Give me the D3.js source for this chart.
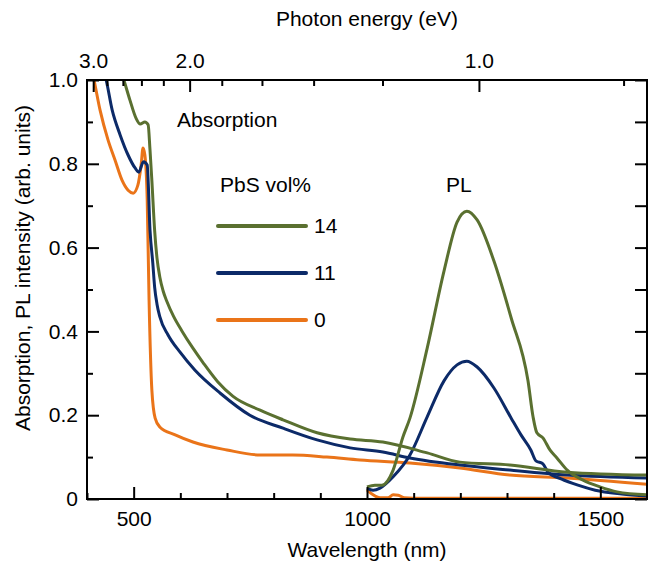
<!DOCTYPE html>
<html>
<head>
<meta charset="utf-8">
<script src="https://cdn.jsdelivr.net/npm/d3@7"></script>
<style>
  body { margin: 0; background: #fff; }
  svg text { font-family: "Liberation Sans", Arial, sans-serif; fill: #000; }
</style>
</head>
<body>
<svg id="chart" width="648" height="563"></svg>
<script>
// wavelength (nm), value
const abs14 = [
  [470, 1.03], [479, 1.0], [492, 0.952], [505, 0.909], [514, 0.895], [524, 0.9],
  [531, 0.893], [535, 0.833], [539, 0.76], [545, 0.64], [550, 0.575], [556, 0.53],
  [563, 0.497], [571, 0.472], [585, 0.437], [604, 0.4], [627, 0.36], [649, 0.325],
  [680, 0.28], [713, 0.245], [771, 0.212], [820, 0.189], [893, 0.158], [964, 0.143],
  [1034, 0.136], [1129, 0.11], [1199, 0.088], [1306, 0.081], [1429, 0.064], [1600, 0.057],
];
const abs11 = [
  [436, 1.02], [441, 1.0], [454, 0.928], [471, 0.869], [488, 0.821], [503, 0.79],
  [511, 0.78], [521, 0.805], [529, 0.797], [535, 0.642], [541, 0.563], [545, 0.505],
  [550, 0.465], [556, 0.435], [574, 0.391], [599, 0.351], [631, 0.308], [685, 0.253],
  [749, 0.2], [820, 0.169], [893, 0.141], [964, 0.122], [1034, 0.112], [1092, 0.098],
  [1199, 0.081], [1306, 0.069], [1429, 0.057], [1600, 0.05],
];
const abs0 = [
  [411, 1.02], [415, 1.0], [428, 0.928], [445, 0.857], [460, 0.809], [475, 0.761],
  [488, 0.737], [499, 0.73], [509, 0.749], [516, 0.797], [520, 0.838], [524, 0.821],
  [529, 0.714], [533, 0.475], [539, 0.26], [546, 0.193], [556, 0.172], [589, 0.153],
  [627, 0.136], [700, 0.117], [771, 0.105], [841, 0.105], [914, 0.1], [985, 0.093],
  [1092, 0.086], [1199, 0.074], [1306, 0.057], [1429, 0.05], [1600, 0.035],
];
const pl14 = [
  [1000, 0.029], [1017, 0.033], [1032, 0.033], [1056, 0.069], [1077, 0.148], [1092, 0.193],
  [1129, 0.36], [1165, 0.544], [1193, 0.661], [1214, 0.687], [1236, 0.666], [1272, 0.568],
  [1309, 0.432], [1345, 0.282], [1356, 0.195], [1364, 0.158], [1377, 0.146], [1392, 0.117],
  [1407, 0.098], [1429, 0.069], [1463, 0.045], [1499, 0.029], [1536, 0.017], [1600, 0.01],
];
const pl11 = [
  [1000, 0.026], [1013, 0.021], [1028, 0.026], [1056, 0.053], [1092, 0.105], [1129, 0.196],
  [1165, 0.282], [1193, 0.32], [1214, 0.329], [1236, 0.315], [1272, 0.265], [1309, 0.193],
  [1330, 0.153], [1351, 0.117], [1362, 0.091], [1377, 0.084], [1388, 0.064], [1416, 0.048],
  [1452, 0.033], [1489, 0.021], [1546, 0.012], [1600, 0.007],
];
const pl0 = [
  [1000, 0.022], [1013, 0.01], [1028, 0.003], [1045, 0.003], [1056, 0.01], [1067, 0.009],
  [1080, 0.003], [1100, 0.002], [1300, 0.002], [1600, 0.002],
];

const series = [
  { name: "14", color: "#5a7030", abs: abs14, pl: pl14 },
  { name: "11", color: "#0c2a68", abs: abs11, pl: pl11 },
  { name: "0", color: "#ea7419", abs: abs0, pl: pl0 },
];

const wlMajor = [500, 1000, 1500];
const wlMinor = [400, 600, 700, 800, 900, 1100, 1200, 1300, 1400, 1600];
const evMajor = [3.0, 2.0, 1.0];
const evMinor = [2.8, 2.6, 2.4, 2.2, 1.8, 1.6, 1.4, 1.2, 0.8];
const yMajor = [0, 0.2, 0.4, 0.6, 0.8, 1.0];
const yMinor = [0.1, 0.3, 0.5, 0.7, 0.9];

const fontSize = "21px";
const svg = d3.select("#chart");
const x = d3.scaleLinear().domain([400, 1600]).range([87, 647]);
const y = d3.scaleLinear().domain([0, 1]).range([499, 80]);
const ev = (e) => 1239.84 / e;

svg.append("defs").append("clipPath").attr("id", "plot")
  .append("rect").attr("x", 87).attr("y", 80).attr("width", 560).attr("height", 419);

// curves
const line = d3.line()
  .x((d) => x(d[0]))
  .y((d) => y(d[1]))
  .curve(d3.curveMonotoneX);

const curves = svg.append("g").attr("clip-path", "url(#plot)");
series.slice().reverse().forEach((s) => {
  [s.abs, s.pl].forEach((data) => {
    curves.append("path")
      .datum(data)
      .attr("d", line)
      .style("fill", "none")
      .style("stroke", s.color)
      .style("stroke-width", 3)
      .style("stroke-linejoin", "round");
  });
});

// axes, ticks inward
const axisStyle = (g) => {
  g.select(".domain").remove();
  g.selectAll("line").style("stroke", "#000").style("stroke-width", 2);
  g.selectAll("text").style("font-size", fontSize).style("font-family", "Liberation Sans, Arial, sans-serif");
};

svg.append("g").attr("transform", "translate(0,499)")
  .call(d3.axisBottom(x).tickValues(wlMinor).tickSize(-6).tickFormat(""))
  .call(axisStyle);
svg.append("g").attr("transform", "translate(0,499)")
  .call(d3.axisBottom(x).tickValues(wlMajor).tickSize(-12).tickPadding(12).tickFormat(d3.format("d")))
  .call(axisStyle);

svg.append("g").attr("transform", "translate(0,80)")
  .call(d3.axisTop(x).tickValues(evMinor.map(ev)).tickSize(-6).tickFormat(""))
  .call(axisStyle);
svg.append("g").attr("transform", "translate(0,80)")
  .call(d3.axisTop(x).tickValues(evMajor.map(ev)).tickSize(-12).tickPadding(12)
    .tickFormat((d) => d3.format(".1f")(1239.84 / d)))
  .call(axisStyle);

svg.append("g").attr("transform", "translate(87,0)")
  .call(d3.axisLeft(y).tickValues(yMinor).tickSize(-6).tickFormat(""))
  .call(axisStyle);
svg.append("g").attr("transform", "translate(87,0)")
  .call(d3.axisLeft(y).tickValues(yMajor).tickSize(-12).tickPadding(9)
    .tickFormat((d) => (d === 0 ? "0" : d3.format(".1f")(d))))
  .call(axisStyle);

svg.append("g").attr("transform", "translate(647,0)")
  .call(d3.axisRight(y).tickValues(yMajor.concat(yMinor)).tickSize(-12).tickFormat(""))
  .call(axisStyle);

svg.append("rect")
  .attr("x", 87).attr("y", 80).attr("width", 560).attr("height", 419)
  .style("fill", "none").style("stroke", "#000").style("stroke-width", 2);

// titles
svg.append("text").attr("x", 367).attr("y", 26).attr("text-anchor", "middle")
  .style("font-size", fontSize).text("Photon energy (eV)");
svg.append("text").attr("x", 367).attr("y", 557).attr("text-anchor", "middle")
  .style("font-size", fontSize).text("Wavelength (nm)");
svg.append("text").attr("transform", "translate(30,268) rotate(-90)").attr("text-anchor", "middle")
  .style("font-size", fontSize).text("Absorption, PL intensity (arb. units)");

svg.append("text").attr("x", 177).attr("y", 127).style("font-size", fontSize).text("Absorption");
svg.append("text").attr("x", 446).attr("y", 192).style("font-size", fontSize).text("PL");
svg.append("text").attr("x", 220).attr("y", 192).style("font-size", fontSize).text("PbS vol%");

// legend
const legend = svg.append("g")
  .selectAll("g")
  .data(series)
  .enter()
  .append("g")
  .attr("transform", (d, i) => `translate(218, ${226 + 47 * i})`);
legend.append("line")
  .attr("x1", 0).attr("x2", 88)
  .style("stroke", (d) => d.color)
  .style("stroke-width", 4)
  .style("stroke-linecap", "round");
legend.append("text")
  .attr("x", 96).attr("y", 7)
  .style("font-size", fontSize)
  .text((d) => d.name);
</script>
</body>
</html>
